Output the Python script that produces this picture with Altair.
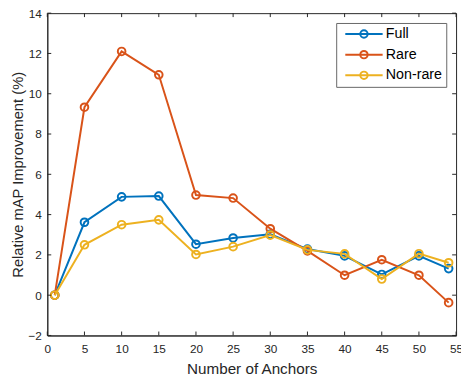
import altair as alt
import pandas as pd

anchors = [1, 5, 10, 15, 20, 25, 30, 35, 40, 45, 50, 54]
full = [0, 3.62, 4.88, 4.92, 2.53, 2.84, 3.02, 2.29, 1.95, 1.03, 1.95, 1.32]
rare = [0, 9.33, 12.1, 10.94, 4.97, 4.82, 3.3, 2.2, 0.99, 1.76, 0.99, -0.37]
nonrare = [0, 2.5, 3.5, 3.74, 2.02, 2.41, 2.98, 2.25, 2.05, 0.8, 2.06, 1.61]
series_names = ["Full", "Rare", "Non-rare"]
series_colors = ["#0072BD", "#D95319", "#EDB120"]
x_ticks = [0, 5, 10, 15, 20, 25, 30, 35, 40, 45, 50, 55]
y_ticks = [-2, 0, 2, 4, 6, 8, 10, 12, 14]

W, H = 416, 328
TXT = "#262626"
FONT = "Liberation Sans"

rows = []
for name, vals in zip(series_names, [full, rare, nonrare]):
    for a, v in zip(anchors, vals):
        rows.append({"anchors": a, "value": v, "series": name})
df = pd.DataFrame(rows)

xscale = alt.Scale(domain=[0, 55], nice=False, zero=False)
yscale = alt.Scale(domain=[-2, 14], nice=False, zero=False)
cscale = alt.Scale(domain=series_names, range=series_colors)

xaxis = alt.Axis(values=x_ticks, title="Number of Anchors", ticks=False, grid=False,
                 labelPadding=8, titlePadding=8, labelFontSize=12, titleFontSize=15.5,
                 titleFontWeight="normal", labelColor=TXT, titleColor=TXT,
                 domainColor=TXT, labelFont=FONT, titleFont=FONT, labelFlush=False)
yaxis = alt.Axis(values=y_ticks, title="Relative mAP Improvement (%)", ticks=False, grid=False,
                 labelPadding=6, titlePadding=3, labelFontSize=12, titleFontSize=15,
                 titleFontWeight="normal", labelColor=TXT, titleColor=TXT,
                 domainColor=TXT, labelFont=FONT, titleFont=FONT, labelFlush=False)

X = lambda f: alt.X(f, scale=xscale, axis=xaxis)
Y = lambda f: alt.Y(f, scale=yscale, axis=yaxis)

legend_symbol = ("M-3.8,0L3.8,0M0.75,0A0.75,0.75,0,1,1,-0.75,0"
                 "A0.75,0.75,0,1,1,0.75,0")
leg = alt.Legend(title=None, orient="top-right", offset=10,
                 symbolType=legend_symbol, symbolSize=100,
                 symbolStrokeWidth=2, symbolFillColor="transparent",
                 labelFontSize=14.5, labelFont=FONT, labelColor="black",
                 strokeColor="#666666", fillColor="white", padding=4,
                 symbolOffset=17, labelOffset=15, rowPadding=5)

layers = []
for i, name in enumerate(series_names):
    base = alt.Chart(df).transform_filter(alt.datum.series == name)
    line = base.mark_line(strokeWidth=2).encode(
        x=X("anchors:Q"), y=Y("value:Q"),
        color=alt.Color("series:N", scale=cscale, legend=leg if i == 0 else None),
    )
    pts = base.mark_point(filled=False, size=60, strokeWidth=2, opacity=1).encode(
        x=X("anchors:Q"), y=Y("value:Q"),
        color=alt.Color("series:N", scale=cscale, legend=None),
    )
    layers += [line, pts]

xt = pd.DataFrame({"t": x_ticks})
yt = pd.DataFrame({"t": y_ticks})
tick_style = dict(color=TXT, strokeWidth=1)
bottom = alt.Chart(xt).mark_rule(**tick_style).encode(
    x=X("t:Q"), y=alt.value(H), y2=alt.value(H - 4))
top = alt.Chart(xt).mark_rule(**tick_style).encode(
    x=X("t:Q"), y=alt.value(0), y2=alt.value(4))
left = alt.Chart(yt).mark_rule(**tick_style).encode(
    y=Y("t:Q"), x=alt.value(0), x2=alt.value(4))
right = alt.Chart(yt).mark_rule(**tick_style).encode(
    y=Y("t:Q"), x=alt.value(W), x2=alt.value(W - 4))

chart = alt.layer(*layers, bottom, top, left, right).properties(
    width=W, height=H,
    autosize=alt.AutoSizeParams(type="none"),
    padding={"left": 40, "top": 2, "right": 5, "bottom": 38},
    background="white",
).configure_view(stroke=TXT, strokeWidth=1)

chart.save("out.html", embed_options={"renderer": "svg", "actions": False})
